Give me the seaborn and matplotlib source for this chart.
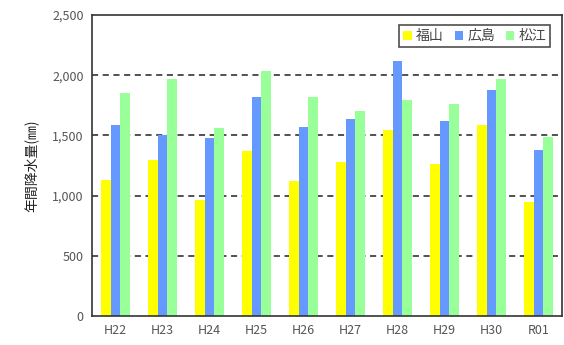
import matplotlib
matplotlib.use('Agg')

import pandas as pd
import seaborn as sns
import matplotlib.pyplot as plt
from matplotlib.ticker import FuncFormatter

# Annual precipitation (mm)
years = ['H22', 'H23', 'H24', 'H25', 'H26', 'H27', 'H28', 'H29', 'H30', 'R01']
fukuyama = [1129, 1295, 960, 1372, 1118, 1278, 1546, 1264, 1585, 949]
hiroshima = [1585, 1502, 1480, 1823, 1568, 1640, 2122, 1618, 1878, 1378]
matsue = [1853, 1972, 1563, 2033, 1815, 1704, 1793, 1759, 1972, 1488]
cities = ['福山', '広島', '松江']
colors = ['#FFFF00', '#6699FF', '#99FF99']

df = pd.DataFrame({
    'year': years * 3,
    'city': [c for c in cities for _ in years],
    'value': fukuyama + hiroshima + matsue,
})

sns.set_style('white')
plt.rcParams['font.family'] = ['Noto Sans CJK JP', 'DejaVu Sans']

fig = plt.figure(figsize=(5.64, 3.45), dpi=100)
ax = fig.add_axes([92 / 564, 1 - 316 / 345, (562 - 92) / 564, (316 - 15) / 345])

sns.barplot(data=df, x='year', y='value', hue='city', palette=colors,
            width=0.6, gap=0, saturation=1, linewidth=0, ax=ax)

ax.set_ylim(0, 2500)
ax.set_yticks(range(0, 2501, 500))
ax.yaxis.set_major_formatter(FuncFormatter(lambda v, p: f'{int(v):,}'))
for v in range(500, 2001, 500):
    ax.axhline(v, color='#222222', linestyle=(0, (4, 3)), linewidth=1.1, zorder=0)
ax.set_xlim(-0.5, len(years) - 0.5)

ax.set_xlabel('')
ax.set_ylabel('年間降水量(㎜)', fontsize=10, color='#222222', labelpad=10)
ax.tick_params(axis='both', length=0, labelsize=9, colors='#555555', pad=6)
for s in ax.spines.values():
    s.set_color('#333333')
    s.set_linewidth(1.2)

leg = ax.legend(loc='upper right', ncol=3, fontsize=10, frameon=True, fancybox=False,
                handlelength=0.6, handleheight=0.6, handletextpad=0.3, columnspacing=0.8,
                borderpad=0.3, bbox_to_anchor=(0.99, 0.99))
leg.get_frame().set_edgecolor('#222222')
leg.get_frame().set_linewidth(1.2)
for t in leg.get_texts():
    t.set_color('#444444')

fig.savefig('out.png', dpi=100)
